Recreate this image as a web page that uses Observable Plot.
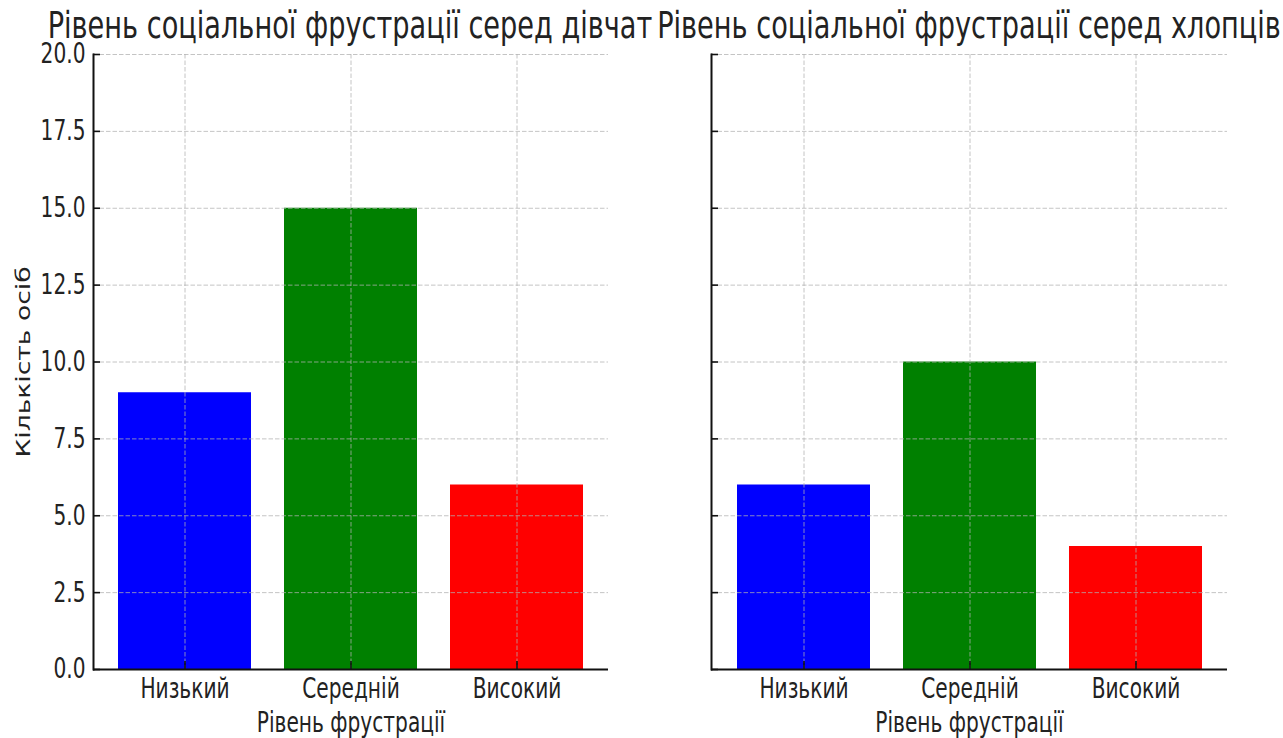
<!DOCTYPE html>
<html>
<head>
<meta charset="utf-8">
<script src="https://cdn.jsdelivr.net/npm/d3@7"></script>
<script src="https://cdn.jsdelivr.net/npm/@observablehq/plot@0.6"></script>
<style>
  body { margin: 0; background: #fff; }
  #wrap { position: relative; width: 1283px; height: 738px; overflow: hidden; font-family: "DejaVu Sans"; background: #fff; }
  .panel { position: absolute; top: 0; }
  .title { position: absolute; top: 12px; width: 900px; text-align: center; font-size: 38px; line-height: 26px; color: #222; white-space: nowrap; transform: scaleX(0.715); transform-origin: 50% 50%; }
</style>
</head>
<body>
<div id="wrap"></div>
<script>
const categories = ["Низький", "Середній", "Високий"];
const girls = [9, 15, 6];
const boys = [6, 10, 4];
const barColors = ["#0000ff", "#008000", "#ff0000"];
const yTicks = [0, 2.5, 5, 7.5, 10, 12.5, 15, 17.5, 20];
const titleGirls = "Рівень соціальної фрустрації серед дівчат";
const titleBoys = "Рівень соціальної фрустрації серед хлопців";
const xLabel = "Рівень фрустрації";
const yLabel = "Кількість осіб";

const K = 0.72;
const FS = 28;
const wrap = document.getElementById("wrap");

function panel(values, opts) {
  const data = categories.map((c, i) => ({level: c, count: values[i]}));
  const gridStyle = {stroke: "#b0b0b0", strokeOpacity: 0.75, strokeWidth: 1, strokeDasharray: "4.5,2"};
  const marks = [
    Plot.barY(data, {x: "level", y: "count", fill: "level"}),
    Plot.gridX({...gridStyle}),
    Plot.gridY({ticks: yTicks, ...gridStyle}),
    Plot.axisY({ticks: yTicks, tickSize: -7, tickFormat: () => "", stroke: "#111", strokeWidth: 1.6, label: null}),
    Plot.axisX({tickSize: -8, tickFormat: () => "", stroke: "#111", strokeWidth: 1.6, label: null}),
    Plot.axisX({tickSize: 0, tickPadding: 9, fontSize: FS, label: null}),
    Plot.ruleY([0], {stroke: "#111", strokeWidth: 2}),
    Plot.frame({anchor: "left", stroke: "#111", strokeWidth: 2}),
    Plot.text([xLabel], {frameAnchor: "bottom", lineAnchor: "middle", dy: 54, fontSize: FS})
  ];
  if (opts.showY) {
    marks.push(Plot.axisY({ticks: yTicks, tickSize: 0, tickPadding: 8, tickFormat: d => d.toFixed(1), fontSize: FS, label: null}));
    marks.push(Plot.text([yLabel], {frameAnchor: "left", rotate: -90, dx: -70, fontSize: 26.6, textAnchor: "middle", lineAnchor: "middle"}));
  }
  return Plot.plot({
    width: opts.width,
    height: 738,
    marginLeft: opts.ml,
    marginRight: opts.mr,
    marginTop: 54,
    marginBottom: 69,
    style: {fontFamily: "DejaVu Sans", fontSize: FS + "px", color: "#222", background: "transparent", overflow: "visible"},
    x: {domain: categories, paddingInner: 0.2, paddingOuter: 0.145, align: 0.5, label: null, axis: null},
    y: {domain: [0, 20], label: null, axis: null},
    color: {domain: categories, range: barColors},
    marks
  });
}

function squeeze(svg) {
  svg.querySelectorAll("text").forEach(t => {
    const tr = t.getAttribute("transform") || "";
    if (tr.includes("rotate")) {
      t.setAttribute("transform", tr + ` scale(1,${K})`);
      return;
    }
    const w = t.getComputedTextLength();
    if (w > 0) {
      t.setAttribute("textLength", w * K);
      t.setAttribute("lengthAdjust", "spacingAndGlyphs");
    }
  });
}

const left = panel(girls, {width: 641, ml: 93, mr: 33, showY: true});
const right = panel(boys, {width: 642, ml: 70, mr: 56, showY: false});
left.classList.add("panel"); left.style.left = "0px";
right.classList.add("panel"); right.style.left = "641px";
wrap.appendChild(left);
wrap.appendChild(right);
squeeze(left);
squeeze(right);

function addTitle(text, cx) {
  const d = document.createElement("div");
  d.className = "title";
  d.textContent = text;
  d.style.left = (cx - 450) + "px";
  wrap.appendChild(d);
}
addTitle(titleGirls, 350);
addTitle(titleBoys, 969);
</script>
</body>
</html>
